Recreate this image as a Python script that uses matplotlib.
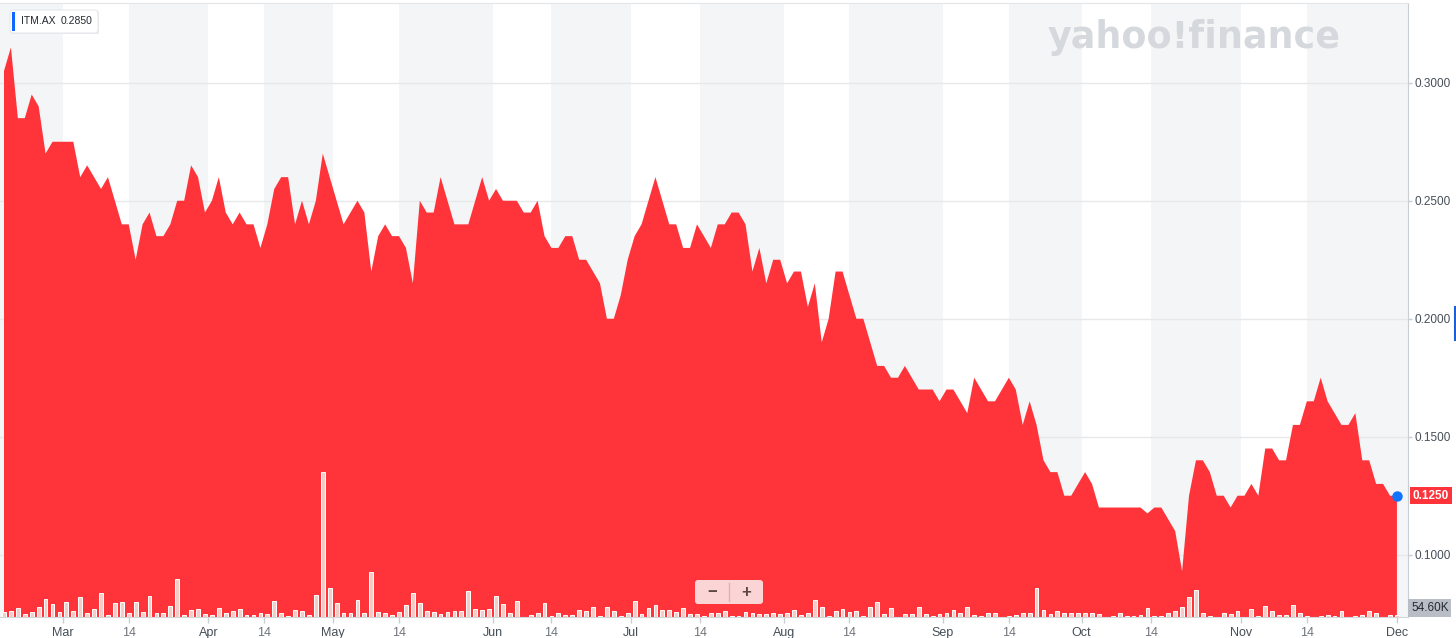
import numpy as np
import matplotlib.pyplot as plt
from matplotlib.patches import FancyBboxPatch, Rectangle
from matplotlib.lines import Line2D
from matplotlib.transforms import IdentityTransform

plt.rcParams['font.family'] = ['Liberation Sans', 'DejaVu Sans']

# ITM.AX daily close, oldest first
close = [
    0.305, 0.315, 0.285, 0.285, 0.295, 0.290, 0.270, 0.275, 0.275, 0.275,
    0.275, 0.260, 0.265, 0.260, 0.255, 0.260, 0.250, 0.240, 0.240, 0.225,
    0.240, 0.245, 0.235, 0.235, 0.240, 0.250, 0.250, 0.265, 0.260, 0.245,
    0.250, 0.260, 0.245, 0.240, 0.245, 0.240, 0.240, 0.230, 0.240, 0.255,
    0.260, 0.260, 0.240, 0.250, 0.240, 0.250, 0.270, 0.260, 0.250, 0.240,
    0.245, 0.250, 0.245, 0.220, 0.235, 0.240, 0.235, 0.235, 0.230, 0.215,
    0.250, 0.245, 0.245, 0.260, 0.250, 0.240, 0.240, 0.240, 0.250, 0.260,
    0.250, 0.255, 0.250, 0.250, 0.250, 0.245, 0.245, 0.250, 0.235, 0.230,
    0.230, 0.235, 0.235, 0.225, 0.225, 0.220, 0.215, 0.200, 0.200, 0.210,
    0.225, 0.235, 0.240, 0.250, 0.260, 0.250, 0.240, 0.240, 0.230, 0.230,
    0.240, 0.235, 0.230, 0.240, 0.240, 0.245, 0.245, 0.240, 0.220, 0.230,
    0.215, 0.225, 0.225, 0.215, 0.220, 0.220, 0.205, 0.215, 0.190, 0.200,
    0.220, 0.220, 0.210, 0.200, 0.200, 0.190, 0.180, 0.180, 0.175, 0.175,
    0.180, 0.175, 0.170, 0.170, 0.170, 0.165, 0.170, 0.170, 0.165, 0.160,
    0.175, 0.170, 0.165, 0.165, 0.170, 0.175, 0.170, 0.155, 0.165, 0.155,
    0.140, 0.135, 0.135, 0.125, 0.125, 0.130, 0.135, 0.130, 0.120, 0.120,
    0.120, 0.120, 0.120, 0.120, 0.120, 0.1175, 0.120, 0.120, 0.115, 0.110,
    0.093, 0.125, 0.140, 0.140, 0.135, 0.125, 0.125, 0.120, 0.125, 0.125,
    0.130, 0.125, 0.145, 0.145, 0.140, 0.140, 0.155, 0.155, 0.165, 0.165,
    0.175, 0.165, 0.160, 0.155, 0.155, 0.160, 0.140, 0.140, 0.130, 0.130,
    0.125, 0.125,
]

# daily volume, thousands of shares
volume_k = [
    135, 165, 245, 80, 135, 275, 490, 355, 135, 410,
    165, 545, 110, 220, 655, 55, 380, 410, 110, 410,
    135, 575, 110, 110, 300, 1035, 55, 190, 220, 80,
    55, 245, 110, 165, 220, 55, 55, 110, 80, 435,
    110, 25, 190, 165, 55, 600, 3960, 790, 380, 110,
    110, 465, 110, 1230, 135, 110, 55, 135, 330, 655,
    380, 165, 135, 80, 135, 165, 165, 710,
    220, 190, 220, 575, 355, 110, 435, 0, 55, 110,
    380, 25, 110, 55, 55, 190, 165, 275, 25, 275,
    165, 25, 110, 435, 80, 245, 330, 190, 190, 135,
    245, 80, 80, 25, 110, 110, 165, 25, 25, 135,
    110, 80, 80, 110, 80, 110, 190, 55, 110, 465,
    275, 25, 165, 220, 135, 165, 25, 275, 410, 80,
    245, 0, 80, 80, 275, 80,
    25, 80, 110, 190, 110, 275, 55, 25, 110, 110,
    0, 25, 55, 110, 110, 790, 190, 80, 165, 110,
    110, 110, 110, 110, 80, 0, 25, 110, 25, 25,
    55, 245, 25, 25, 110, 165, 275, 545, 735, 110,
    25, 0, 110, 80, 165, 0, 220, 25, 300, 165,
    55, 55, 330, 110, 25, 0, 25, 55, 25, 165,
    0, 25, 55, 165, 110, 0, 55, 54.6,
]

# x ticks sit between trading days
tick_pos = [8.5, 18, 29.5, 37.5, 47.5, 57, 70.5, 79, 90.5, 100.5,
            112.5, 122, 135.5, 145, 155.5, 165.5, 178.5, 188, 201]
tick_labels = ["Mar", "14", "Apr", "14", "May", "14", "Jun", "14", "Jul", "14",
               "Aug", "14", "Sep", "14", "Oct", "14", "Nov", "14", "Dec"]
price_ticks = [0.10, 0.15, 0.20, 0.25, 0.30]

symbol = "ITM.AX"
prev_close = 0.2850

W, H = 1456, 638
step = 6.93  # px per trading day
RED = '#ff333a'

fig = plt.figure(figsize=(W / 100, H / 100), dpi=100)
ax = fig.add_axes([0, (H - 617) / H, 1408 / W, 614 / H])
axv = ax.twinx()  # volume on its own scale (twinx resets ticks, so style ax after)
x = np.arange(len(close))
xmin, xmax = -4 / step, (1408 - 4) / step
ax.set_xlim(xmin, xmax)
ax.set_ylim(0.0736, 0.3338)

# alternating half-month bands
grey_spans = [(xmin, tick_pos[0])]
grey_spans += [(tick_pos[k], tick_pos[k + 1]) for k in range(1, len(tick_pos) - 2, 2)]
grey_spans += [(tick_pos[-2], xmax)]
for a, b in grey_spans:
    ax.axvspan(a, b, color='#f4f5f6', lw=0, zorder=1)

for yv in price_ticks:
    ax.axhline(yv, color='#e6e8ea', lw=1, zorder=1.5)

ax.fill_between(x, close, 0, color=RED, lw=0, zorder=2)

ax.spines['left'].set_visible(False)
ax.spines['top'].set_color('#e3e6e9')
ax.spines['right'].set_color('#c9ced3')
ax.spines['bottom'].set_color('#d3d7db')

ax.set_xticks(tick_pos, tick_labels)
ax.tick_params(axis='x', length=4, width=1, color='#c9ced3', pad=3, labelsize=9)
for lbl, t in zip(ax.get_xticklabels(), tick_labels):
    lbl.set_color('#6e757c' if t == "14" else '#464e56')

ax.yaxis.tick_right()
ax.set_yticks(price_ticks, ['{:.4f}'.format(v) for v in price_ticks])
ax.tick_params(axis='y', length=3, width=1, color='#c9ced3', pad=2,
               labelsize=8.5, labelcolor='#464e56')

axv.set_ylim(0, 614 * 27.3)
axv.bar(x, volume_k, width=0.55, color='#f4cdc9', edgecolor='white', lw=0.7)
axv.set_yticks([])
for s in axv.spines.values():
    s.set_visible(False)

# last price dot (drawn on top layer) and tag
axv.plot(x[-1], close[-1], 'o', ms=6.5, color='#0f74ff', transform=ax.transData,
         zorder=6, clip_on=False)
ax.text(1.0035, close[-1], '{:.4f}'.format(close[-1]), transform=ax.get_yaxis_transform(),
        ha='left', va='center', color='white', fontsize=8.5, fontweight='bold',
        bbox=dict(boxstyle='square,pad=0.22', fc=RED, ec='none'), clip_on=False, zorder=7)

px = IdentityTransform()

# volume tag
fig.text(1411, H - 608, '{:.2f}K'.format(volume_k[-1]), transform=px, ha='left', va='center',
         color='#232a31', fontsize=8.5,
         bbox=dict(boxstyle='square,pad=0.22', fc='#b9bec6', ec='none'))

# symbol box top-left
fig.patches.append(Rectangle((11, H - 34), 88, 23, transform=px, fc='#e9ebee', ec='none'))
fig.patches.append(FancyBboxPatch((10, H - 33), 88, 23, boxstyle='round,pad=0,rounding_size=3',
                                  transform=px, fc='white', ec='#e6e8eb', lw=0.8))
fig.patches.append(Rectangle((12, H - 31), 3, 19, transform=px, fc='#0f69ff', ec='none'))
fig.text(21, H - 21.5, symbol, transform=px, va='center', fontsize=7.5, color='#232a31')
fig.text(61, H - 21.5, '{:.4f}'.format(prev_close), transform=px, va='center',
         fontsize=7.5, color='#232a31')

# zoom control
fig.patches.append(FancyBboxPatch((695, H - 604), 68, 24, boxstyle='round,pad=0,rounding_size=3',
                                  transform=px, fc='#fbd4d5', ec='none'))
fig.lines.append(Line2D([729, 729], [H - 601, H - 583], transform=px, color='#eaaeb0', lw=1))
fig.text(712, H - 592, '\u2212', transform=px, ha='center', va='center', fontsize=12,
         fontweight='bold', color='#5e4546')
fig.text(746, H - 592, '+', transform=px, ha='center', va='center', fontsize=12,
         fontweight='bold', color='#5e4546')

# watermark
fig.text(1048, H - 37, 'yahoo!finance', transform=px, ha='left', va='center', fontsize=26.3,
         fontweight='bold', color='#d5d9dd', family='DejaVu Sans')

fig.lines.append(Line2D([1455, 1455], [H - 307, H - 340], transform=px, color='#1a5fd6', lw=1.5))

fig.savefig('out.png', dpi=100)
